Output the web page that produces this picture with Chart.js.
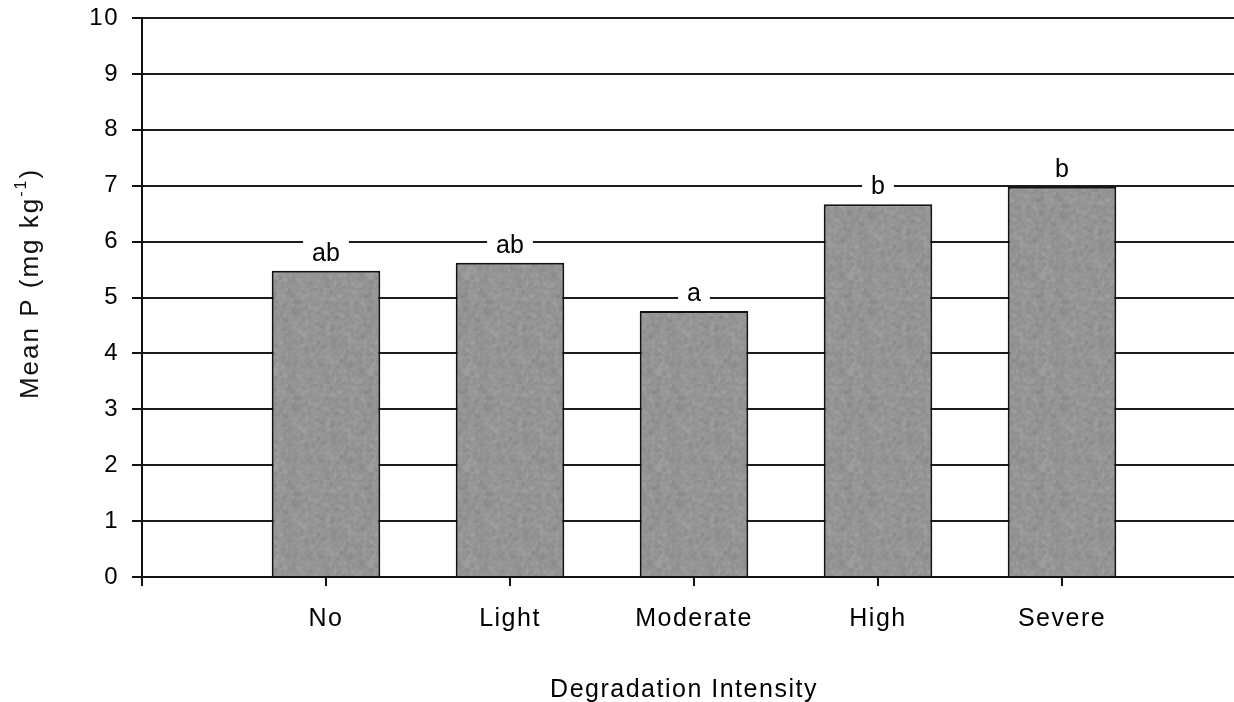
<!DOCTYPE html>
<html>
<head>
<meta charset="utf-8">
<script src="https://cdn.jsdelivr.net/npm/chart.js@4.4.1/dist/chart.umd.min.js"></script>
<style>
  html, body { margin: 0; padding: 0; background: #fff; overflow: hidden; }
  #wrap { width: 1234px; height: 702px; overflow: hidden; }
  #pChart { display: block; }
</style>
</head>
<body>
<div id="wrap"><canvas id="pChart" width="1248" height="702"></canvas></div>
<script>
// Mean extractable P per degradation class, with mean-separation letters.
// Empty first/last slots leave room on both sides of the bar group.
const CLASSES = ['', 'No', 'Light', 'Moderate', 'High', 'Severe', ''];
const MEAN_P = [null, 5.48, 5.62, 4.76, 6.67, 6.98, null];
const SIG_LETTERS = ['', 'ab', 'ab', 'a', 'b', 'b', ''];
const Y_MIN = 0;
const Y_MAX = 10;
const Y_STEP = 1;
const X_TITLE = 'Degradation Intensity';
const Y_TITLE = ['Mean P (mg kg', '-1', ')'];

const FONT = '"Liberation Sans", Arial, sans-serif';
Chart.defaults.font.family = FONT;

// mottled grey fill for the bars (fixed hash, same every load)
function grainPattern() {
  const size = 96;
  const raw = document.createElement('canvas');
  raw.width = raw.height = size;
  const rctx = raw.getContext('2d');
  const img = rctx.createImageData(size, size);
  for (let y = 0; y < size; y++) {
    for (let x = 0; x < size; x++) {
      const h = Math.sin(x * 12.9898 + y * 78.233) * 43758.5453;
      const n = h - Math.floor(h);
      const v = Math.round(148 + (n - 0.5) * 60);
      const k = (y * size + x) * 4;
      img.data[k] = img.data[k + 1] = img.data[k + 2] = v;
      img.data[k + 3] = 255;
    }
  }
  rctx.putImageData(img, 0, 0);
  const soft = document.createElement('canvas');
  soft.width = soft.height = size;
  const sctx = soft.getContext('2d');
  sctx.fillStyle = '#949494';
  sctx.fillRect(0, 0, size, size);
  sctx.filter = 'blur(0.8px)';
  sctx.drawImage(raw, 0, 0);
  return sctx.createPattern(soft, 'repeat');
}

// slightly spaced lettering for the axis text
const textSpacing = {
  id: 'textSpacing',
  beforeDraw(chart) { chart.ctx.letterSpacing = '1.5px'; }
};

// letters above each bar, on a white patch that breaks the grid line
const sigLetters = {
  id: 'sigLetters',
  afterDatasetsDraw(chart) {
    const ctx = chart.ctx;
    const bars = chart.getDatasetMeta(0).data;
    ctx.save();
    ctx.letterSpacing = '0px';
    ctx.font = '25px ' + FONT;
    ctx.textAlign = 'center';
    ctx.textBaseline = 'alphabetic';
    bars.forEach((bar, i) => {
      const txt = SIG_LETTERS[i];
      if (!txt || MEAN_P[i] == null) return;
      const w = ctx.measureText(txt).width;
      const base = bar.y - 10;
      ctx.fillStyle = '#fff';
      ctx.fillRect(bar.x - w / 2 - 9, base - 21, w + 18, 23);
      ctx.fillStyle = '#000';
      ctx.fillText(txt, bar.x, base);
    });
    ctx.restore();
  }
};

// axis titles (the y title carries a superscript)
const axisTitles = {
  id: 'axisTitles',
  afterDraw(chart) {
    const ctx = chart.ctx;
    const area = chart.chartArea;
    ctx.save();
    ctx.fillStyle = '#000';
    ctx.letterSpacing = '1.5px';
    ctx.font = '25px ' + FONT;
    ctx.textAlign = 'center';
    ctx.textBaseline = 'alphabetic';
    ctx.fillText(X_TITLE, (area.left + area.right) / 2 - 10, area.bottom + 120);

    // rotated y title
    const mainFont = '26px ' + FONT;
    const supFont = '16px ' + FONT;
    ctx.letterSpacing = '2px';
    ctx.font = mainFont;
    const w0 = ctx.measureText(Y_TITLE[0]).width;
    const w2 = ctx.measureText(Y_TITLE[2]).width;
    ctx.font = supFont;
    const w1 = ctx.measureText(Y_TITLE[1]).width;
    const total = w0 + w1 + w2;
    ctx.translate(31, (area.top + area.bottom) / 2 - 14);
    ctx.rotate(-Math.PI / 2);
    ctx.filter = 'blur(0.6px)';
    ctx.fillStyle = '#111';
    ctx.textAlign = 'left';
    ctx.textBaseline = 'middle';
    let x = -total / 2;
    ctx.font = mainFont;
    ctx.fillText(Y_TITLE[0], x, 0);
    x += w0;
    ctx.font = supFont;
    ctx.fillText(Y_TITLE[1], x, -9);
    x += w1;
    ctx.font = mainFont;
    ctx.fillText(Y_TITLE[2], x, 0);
    ctx.restore();
  }
};

// drop the extra room scales ask for around their end labels
const noScalePad = s => { s.paddingTop = 0; s.paddingBottom = 0; s.paddingLeft = 0; s.paddingRight = 0; };

new Chart(document.getElementById('pChart'), {
  type: 'bar',
  data: {
    labels: CLASSES,
    datasets: [{
      data: MEAN_P,
      backgroundColor: grainPattern(),
      borderColor: '#111',
      borderWidth: 2,
      categoryPercentage: 1,
      barPercentage: 0.59
    }]
  },
  options: {
    responsive: false,
    animation: false,
    layout: { padding: { top: 18, right: 2, bottom: 0, left: 0 } },
    plugins: {
      legend: { display: false },
      tooltip: { enabled: false }
    },
    scales: {
      x: {
        offset: false,
        grid: { offset: false, drawOnChartArea: false, drawTicks: true, tickLength: 9, tickColor: '#111', lineWidth: 2 },
        border: { color: '#111', width: 2 },
        ticks: { color: '#000', font: { size: 25 }, padding: 18, maxRotation: 0, autoSkip: false },
        afterFit: s => { s.height = 125; noScalePad(s); }
      },
      y: {
        min: Y_MIN,
        max: Y_MAX,
        ticks: { stepSize: Y_STEP, color: '#000', font: { size: 24 }, padding: 13 },
        grid: { color: '#1c1c1c', lineWidth: 2, tickLength: 10, tickColor: '#111' },
        border: { color: '#111', width: 2 },
        afterFit: s => { s.width = 142; noScalePad(s); }
      }
    }
  },
  plugins: [textSpacing, sigLetters, axisTitles]
});
</script>
</body>
</html>
